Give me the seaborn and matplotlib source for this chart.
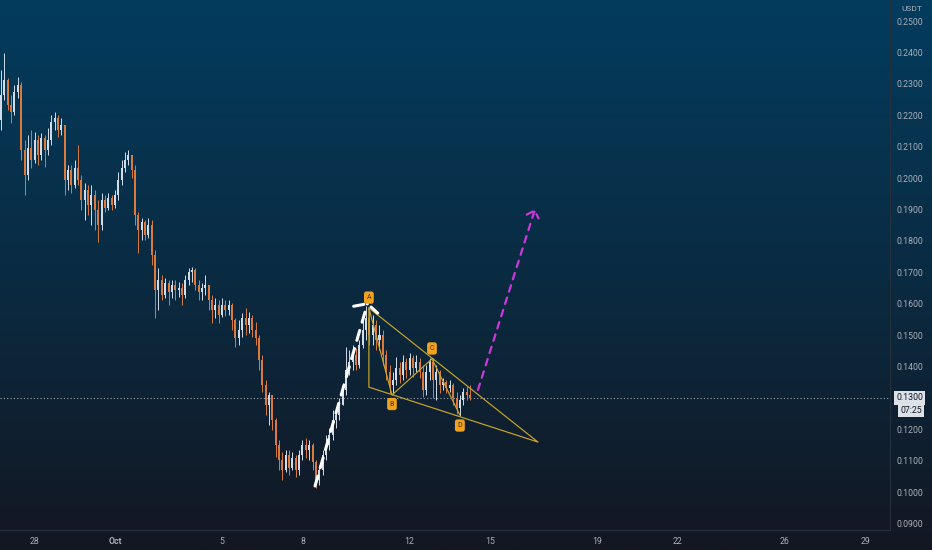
import numpy as np
import pandas as pd
import matplotlib
matplotlib.use('Agg')
import matplotlib.pyplot as plt
import matplotlib.dates as mdates
import matplotlib.ticker as ticker
from matplotlib.colors import LinearSegmentedColormap
import seaborn as sns

# 3h candles, USDT
start = '2023-09-26 18:00'
first_open = 0.2185
close = [
    0.2264, 0.2312, 0.2233, 0.2210, 0.2274, 0.2296, 0.2089, 0.2010, 0.2096, 0.2057,
    0.2121, 0.2073, 0.2127, 0.2089, 0.2121, 0.2178, 0.2191, 0.2153, 0.2169, 0.1994,
    0.2026, 0.1978, 0.2032, 0.1994, 0.1930, 0.1962, 0.1914, 0.1946, 0.1898, 0.1850,
    0.1930, 0.1904, 0.1936, 0.1914, 0.1946, 0.1994, 0.2032, 0.2057, 0.2073, 0.2026,
    0.1882, 0.1834, 0.1860, 0.1819, 0.1850, 0.1755, 0.1643, 0.1675, 0.1627, 0.1666,
    0.1637, 0.1659, 0.1643, 0.1650, 0.1627, 0.1675, 0.1701, 0.1707, 0.1659, 0.1637,
    0.1650, 0.1659, 0.1612, 0.1580, 0.1596, 0.1564, 0.1596, 0.1580, 0.1596, 0.1548,
    0.1491, 0.1516, 0.1554, 0.1532, 0.1554, 0.1516, 0.1491, 0.1420, 0.1341, 0.1277,
    0.1309, 0.1229, 0.1150, 0.1102, 0.1070, 0.1118, 0.1076, 0.1108, 0.1070, 0.1118,
    0.1150, 0.1134, 0.1150, 0.1096, 0.1038, 0.1070, 0.1118, 0.1150, 0.1182, 0.1229,
    0.1245, 0.1277, 0.1325, 0.1389, 0.1414, 0.1436, 0.1404, 0.1468, 0.1516, 0.1554,
    0.1500, 0.1532, 0.1484, 0.1500, 0.1436, 0.1382, 0.1341, 0.1357, 0.1395, 0.1373,
    0.1414, 0.1389, 0.1427, 0.1395, 0.1414, 0.1382, 0.1325, 0.1382, 0.1414, 0.1357,
    0.1382, 0.1341, 0.1350, 0.1331, 0.1341, 0.1299, 0.1268, 0.1293, 0.1319, 0.1309,
    0.1300]
high = [
    0.2344, 0.2398, 0.2319, 0.2264, 0.2296, 0.2322, 0.2306, 0.2121, 0.2137, 0.2153,
    0.2147, 0.2137, 0.2143, 0.2137, 0.2159, 0.2201, 0.2210, 0.2201, 0.2191, 0.2169,
    0.2041, 0.2041, 0.2057, 0.2105, 0.2010, 0.1984, 0.1978, 0.1978, 0.1962, 0.1930,
    0.1952, 0.1946, 0.1952, 0.1946, 0.1962, 0.2019, 0.2057, 0.2083, 0.2089, 0.2073,
    0.2041, 0.1892, 0.1873, 0.1866, 0.1873, 0.1866, 0.1771, 0.1713, 0.1691, 0.1682,
    0.1675, 0.1675, 0.1675, 0.1669, 0.1666, 0.1691, 0.1713, 0.1717, 0.1713, 0.1675,
    0.1666, 0.1691, 0.1659, 0.1627, 0.1618, 0.1612, 0.1618, 0.1612, 0.1612, 0.1602,
    0.1554, 0.1548, 0.1570, 0.1586, 0.1573, 0.1564, 0.1541, 0.1500, 0.1436, 0.1357,
    0.1319, 0.1309, 0.1236, 0.1166, 0.1127, 0.1134, 0.1134, 0.1127, 0.1118, 0.1134,
    0.1166, 0.1172, 0.1166, 0.1156, 0.1102, 0.1086, 0.1134, 0.1182, 0.1204, 0.1261,
    0.1268, 0.1299, 0.1347, 0.1462, 0.1452, 0.1468, 0.1459, 0.1484, 0.1554, 0.1592,
    0.1580, 0.1564, 0.1548, 0.1532, 0.1516, 0.1452, 0.1404, 0.1382, 0.1430, 0.1414,
    0.1436, 0.1427, 0.1443, 0.1436, 0.1436, 0.1427, 0.1404, 0.1404, 0.1427, 0.1427,
    0.1404, 0.1389, 0.1363, 0.1357, 0.1357, 0.1347, 0.1319, 0.1309, 0.1331, 0.1338,
    0.1341]
low = [
    0.2153, 0.2248, 0.2217, 0.2175, 0.2201, 0.2255, 0.2057, 0.1946, 0.1994, 0.2032,
    0.2048, 0.2041, 0.2057, 0.2035, 0.2073, 0.2105, 0.2153, 0.2131, 0.2137, 0.1946,
    0.1962, 0.1952, 0.1968, 0.1978, 0.1898, 0.1866, 0.1882, 0.1850, 0.1834, 0.1796,
    0.1834, 0.1892, 0.1898, 0.1898, 0.1904, 0.1930, 0.1978, 0.2019, 0.2041, 0.2000,
    0.1850, 0.1761, 0.1803, 0.1803, 0.1809, 0.1723, 0.1554, 0.1580, 0.1612, 0.1618,
    0.1596, 0.1618, 0.1612, 0.1621, 0.1596, 0.1618, 0.1659, 0.1669, 0.1643, 0.1612,
    0.1612, 0.1627, 0.1580, 0.1538, 0.1554, 0.1538, 0.1557, 0.1561, 0.1564, 0.1516,
    0.1462, 0.1468, 0.1494, 0.1500, 0.1506, 0.1494, 0.1468, 0.1389, 0.1319, 0.1245,
    0.1213, 0.1197, 0.1112, 0.1070, 0.1038, 0.1064, 0.1054, 0.1070, 0.1048, 0.1054,
    0.1102, 0.1108, 0.1102, 0.1070, 0.1013, 0.1022, 0.1054, 0.1102, 0.1134, 0.1166,
    0.1204, 0.1229, 0.1277, 0.1309, 0.1373, 0.1389, 0.1389, 0.1395, 0.1459, 0.1484,
    0.1468, 0.1468, 0.1452, 0.1452, 0.1404, 0.1357, 0.1315, 0.1309, 0.1341, 0.1347,
    0.1357, 0.1363, 0.1373, 0.1366, 0.1382, 0.1363, 0.1303, 0.1309, 0.1357, 0.1299,
    0.1293, 0.1315, 0.1325, 0.1315, 0.1319, 0.1277, 0.1248, 0.1242, 0.1277, 0.1293,
    0.1293]

# drawing: ABCD points and the wedge
pat_names = ['A', 'B', 'C', 'D']
pat_times = ['2023-10-10 11:30', '2023-10-11 08:10', '2023-10-12 20:00', '2023-10-13 21:00']
pat_prices = [0.1586, 0.1309, 0.1424, 0.1245]
wedge_times = ['2023-10-10 11:30', '2023-10-10 11:30', '2023-10-16 19:00', '2023-10-10 11:30']
wedge_prices = [0.1586, 0.1334, 0.1159, 0.1586]
# arrows (start, end)
white_arrow = (('2023-10-08 11:15', 0.1019), ('2023-10-10 10:35', 0.1605))
pink_arrow = (('2023-10-14 13:10', 0.1325), ('2023-10-16 16:20', 0.1901))

last_price = 0.1300
countdown = '07:25'
price_ticks = [0.09, 0.10, 0.11, 0.12, 0.13, 0.14, 0.15, 0.16, 0.17, 0.18,
               0.19, 0.20, 0.21, 0.22, 0.23, 0.24, 0.25]
date_ticks = ['2023-09-28', '2023-10-01', '2023-10-05', '2023-10-08', '2023-10-12',
              '2023-10-15', '2023-10-19', '2023-10-22', '2023-10-26', '2023-10-29']
date_labels = ['28', 'Oct', '5', '8', '12', '15', '19', '22', '26', '29']

df = pd.DataFrame({'time': pd.date_range(start, periods=len(close), freq='3h'),
                   'close': close, 'high': high, 'low': low})
df['open'] = [first_open] + close[:-1]
df['high'] = df[['high', 'open', 'close']].max(axis=1)
df['low'] = df[['low', 'open', 'close']].min(axis=1)
df['x'] = mdates.date2num(df['time'])
up = df['close'] >= df['open']

def num(t):
    return mdates.date2num(pd.Timestamp(t))

sns.set_style('dark')
plt.rcParams['font.family'] = ['Roboto', 'DejaVu Sans']

fig = plt.figure(figsize=(9.32, 5.5), dpi=100)

# gradient background over the whole figure
bg = fig.add_axes([0, 0, 1, 1], zorder=0)
cmap = LinearSegmentedColormap.from_list('tv', ['#033c5e', '#0a2b42', '#131722'])
bg.imshow(np.linspace(0, 1, 256).reshape(-1, 1), aspect='auto', cmap=cmap,
          extent=[0, 1, 0, 1], origin='upper')
bg.set_axis_off()

ax = fig.add_axes([0, 20 / 550, 890 / 932, 530 / 550], zorder=1)
ax.patch.set_alpha(0)

up_col = '#d2dce6'
dn_col = '#db7a3c'
cols = np.where(up, up_col, dn_col)
ax.vlines(df['x'], df['low'], df['high'], colors=cols, lw=0.7, zorder=3)
body = (df['close'] - df['open']).abs().clip(lower=0.0004)
ax.bar(df['x'], body, bottom=df[['open', 'close']].min(axis=1), width=0.075,
       color=cols, linewidth=0, zorder=4)

# last price dotted line
ax.axhline(last_price, color='#9aa4b0', lw=0.8, ls=(0, (1, 2)), zorder=2)

# wedge + ABCD via seaborn
gold = '#c9a52c'
wedge = pd.DataFrame({'x': [num(t) for t in wedge_times], 'p': wedge_prices})
sns.lineplot(data=wedge, x='x', y='p', sort=False, estimator=None, color=gold,
             lw=0.85, ax=ax, zorder=5)
pat = pd.DataFrame({'x': [num(t) for t in pat_times], 'p': pat_prices, 'name': pat_names})
sns.lineplot(data=pat, x='x', y='p', sort=False, estimator=None, color=gold,
             lw=0.85, ax=ax, zorder=5)
offs = {'A': 7.5, 'B': -6.5, 'C': 7.5, 'D': -7.5}
for _, r in pat.iterrows():
    ax.annotate(r['name'], (r['x'], r['p']), xytext=(0, offs[r['name']]),
                textcoords='offset points', ha='center', va='center',
                fontsize=5, color='#4a3000', zorder=7,
                bbox=dict(boxstyle='round,pad=0.38,rounding_size=0.35',
                          fc='#f0a21e', ec='none'))

(s0, p0), (s1, p1) = white_arrow
ax.annotate('', xy=(num(s1), p1), xytext=(num(s0), p0), zorder=6,
            arrowprops=dict(arrowstyle='->,head_length=0.45,head_width=0.9',
                            color='white', lw=2.2, ls=(0, (3.4, 2.8)),
                            shrinkA=0, shrinkB=0))
(s0, p0), (s1, p1) = pink_arrow
ax.annotate('', xy=(num(s1), p1), xytext=(num(s0), p0), zorder=6,
            arrowprops=dict(arrowstyle='->,head_length=0.45,head_width=0.45',
                            color='#cf36dc', lw=1.6, ls=(0, (3, 2.8)),
                            shrinkA=0, shrinkB=0))

x0 = num('2023-09-28')
ax.set_xlim(x0 - 1.29, x0 + 31.93)
ax.set_ylim(0.0879, 0.2567)

ax.yaxis.tick_right()
ax.yaxis.set_major_locator(ticker.FixedLocator(price_ticks))
ax.yaxis.set_major_formatter(ticker.FuncFormatter(lambda v, p: '{:.4f}'.format(v)))
ax.xaxis.set_major_locator(ticker.FixedLocator([num(t) for t in date_ticks]))
ax.xaxis.set_major_formatter(ticker.FixedFormatter(date_labels))
ax.tick_params(axis='both', length=0, labelsize=6.3, colors='#a9aeb8')
ax.tick_params(axis='y', pad=5)
ax.tick_params(axis='x', pad=5)
for lab in ax.get_xticklabels():
    if lab.get_text() == 'Oct':
        lab.set_fontweight('bold')
ax.set_xlabel('')
ax.set_ylabel('')
ax.grid(False)
for s in ['top', 'left']:
    ax.spines[s].set_visible(False)
for s in ['right', 'bottom']:
    ax.spines[s].set_color('#26303d')
    ax.spines[s].set_linewidth(0.8)

ax.annotate('{:.4f}'.format(last_price), (1, last_price), xycoords=('axes fraction', 'data'),
            xytext=(4.5, 0), textcoords='offset points', ha='left', va='center',
            fontsize=6.3, color='#131722', annotation_clip=False,
            bbox=dict(boxstyle='square,pad=0.25', fc='#dde2e8', ec='none'))
ax.annotate(countdown, (1, last_price), xycoords=('axes fraction', 'data'),
            xytext=(7.5, -8.8), textcoords='offset points', ha='left', va='center',
            fontsize=6.3, color='#131722', annotation_clip=False,
            bbox=dict(boxstyle='square,pad=0.25', fc='#dde2e8', ec='none'))
fig.text(912 / 932, 1 - 9 / 550, 'USDT', ha='center', va='center', fontsize=6,
         color='#a9aeb8')

fig.savefig('out.png', dpi=100)
